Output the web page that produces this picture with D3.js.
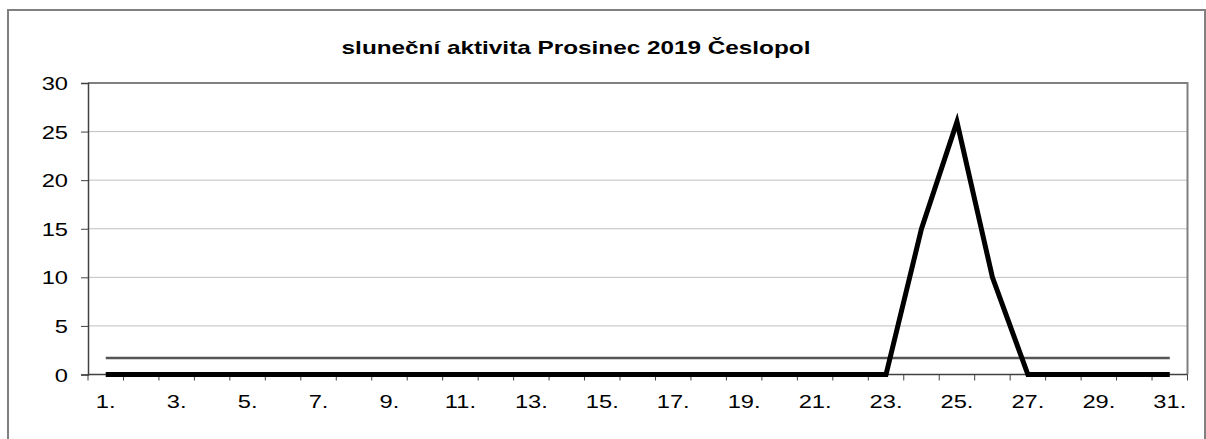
<!DOCTYPE html>
<html>
<head>
<meta charset="utf-8">
<script src="https://cdn.jsdelivr.net/npm/d3@7"></script>
<style>
  html, body { margin: 0; padding: 0; background: #fff; }
  svg { display: block; font-family: Arial, "Liberation Sans", sans-serif; }
</style>
</head>
<body>
<svg id="chart" width="1206" height="439"></svg>
<script>
// data
var title = "sluneční aktivita Prosinec 2019 Česlopol";
var days = d3.range(1, 32).map(function (d) { return d + "."; });
var activity = [0,0,0,0,0,0,0,0,0,0,0,0,0,0,0,0,0,0,0,0,0,0,0,15,26,10,0,0,0,0,0];
var average = days.map(function () { return 1.7; });
var yTicks = [0, 5, 10, 15, 20, 25, 30];
var xLabels = days.filter(function (d, i) { return i % 2 === 0; });

(function () {
    var svg = d3.select("#chart");
    var left = 88, right = 1187.5, top = 83, bottom = 374.5;
    var stretch = 1.28; // the original text is wider than it is tall

    var x = d3.scaleBand().domain(days).range([left, right]).padding(0);
    var y = d3.scaleLinear().domain([0, 30]).range([bottom, top]);
    var cx = function (d) { return x(d) + x.bandwidth() / 2; };

    function label(g, px, py, txt, anchor, size, bold) {
        return g.append("text")
            .attr("transform", "translate(" + px + "," + py + ") scale(" + stretch + ",1)")
            .attr("text-anchor", anchor)
            .attr("font-size", size)
            .attr("font-weight", bold ? "bold" : "normal")
            .attr("fill", "#000")
            .text(txt);
    }

    // chart frame
    svg.append("rect")
        .attr("x", 8).attr("y", 10)
        .attr("width", 1197).attr("height", 450)
        .attr("fill", "none").attr("stroke", "#808080").attr("stroke-width", 2);

    label(svg, 576, 54, title, "middle", 19, true);

    // gridlines
    svg.append("g").selectAll("line").data(yTicks.slice(1, -1)).enter().append("line")
        .attr("x1", left).attr("x2", right)
        .attr("y1", function (d) { return y(d); })
        .attr("y2", function (d) { return y(d); })
        .attr("stroke", "#c0c0c0").attr("stroke-width", 1);

    // plot area border top/right
    svg.append("path")
        .attr("d", "M" + left + "," + y(30) + "H" + right + "V" + bottom)
        .attr("fill", "none").attr("stroke", "#808080").attr("stroke-width", 2);

    // y axis
    var yAxis = svg.append("g")
        .attr("transform", "translate(" + left + ",0)")
        .call(d3.axisLeft(y).tickValues(yTicks).tickSize(7).tickFormat(""));
    yAxis.select(".domain").attr("stroke", "#404040").attr("stroke-width", 1.5);
    yAxis.selectAll(".tick line").attr("stroke", "#404040");
    var yl = svg.append("g");
    yTicks.forEach(function (t) {
        label(yl, 68, y(t) + 7, String(t), "end", 18.5, false);
    });

    // x axis: boundary ticks, labels on every second day
    var xg = svg.append("g").attr("transform", "translate(0," + bottom + ")");
    xg.append("line").attr("x1", left).attr("x2", right)
        .attr("stroke", "#404040").attr("stroke-width", 1.5);
    var edges = days.map(function (d) { return x(d); }).concat([right]);
    xg.selectAll("line.tk").data(edges).enter().append("line")
        .attr("class", "tk")
        .attr("x1", function (d) { return d; }).attr("x2", function (d) { return d; })
        .attr("y1", 0).attr("y2", 6)
        .attr("stroke", "#404040");
    xLabels.forEach(function (d) {
        label(xg, cx(d), 33, d, "middle", 18.5, false);
    });

    var line = d3.line()
        .x(function (d, i) { return cx(days[i]); })
        .y(function (d) { return y(d); });

    svg.append("path").datum(average)
        .attr("d", line)
        .attr("fill", "none").attr("stroke", "#555").attr("stroke-width", 2.5);

    svg.append("path").datum(activity)
        .attr("d", line)
        .attr("fill", "none").attr("stroke", "#000").attr("stroke-width", 5)
        .attr("stroke-linejoin", "miter");
})();
</script>
</body>
</html>
